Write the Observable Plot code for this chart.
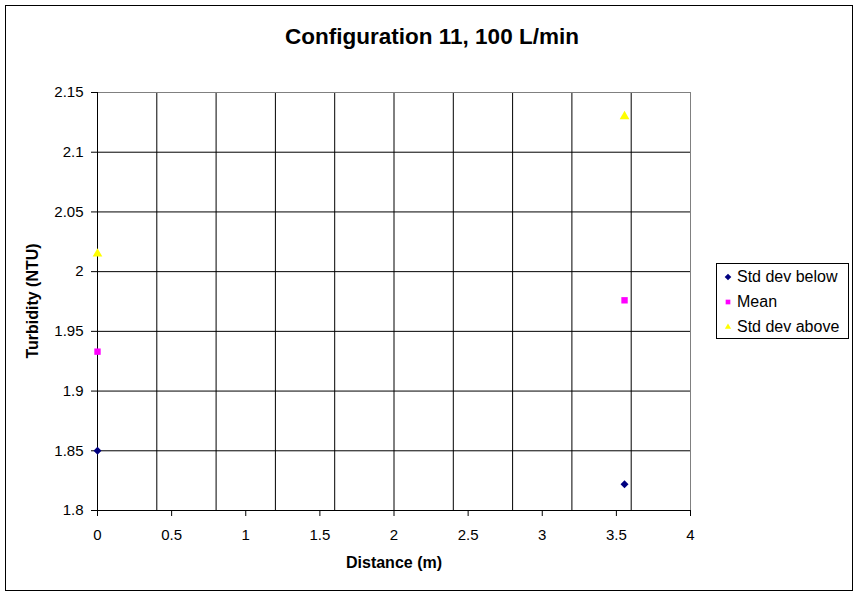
<!DOCTYPE html>
<html>
<head>
<meta charset="utf-8">
<script src="https://cdn.jsdelivr.net/npm/d3@7"></script>
<script src="https://cdn.jsdelivr.net/npm/@observablehq/plot@0.6"></script>
<style>
  html, body { margin: 0; padding: 0; background: #fff; }
  #wrap { position: relative; width: 859px; height: 596px; font-family: Arial, "Liberation Sans", sans-serif; }
  #border { position: absolute; left: 5px; top: 5px; width: 848px; height: 586px; border: 1px solid #000; box-sizing: border-box; pointer-events: none; }
  #title { position: absolute; left: 0; top: 24px; width: 864px; text-align: center; font-weight: bold; font-size: 22.5px; color: #000; }
  #ylabel { position: absolute; left: 33px; top: 301px; transform: translate(-50%, -50%) rotate(-90deg); font-weight: bold; font-size: 16px; white-space: nowrap; }
  #xlabel { position: absolute; left: 394px; top: 563px; transform: translate(-50%, -50%); font-weight: bold; font-size: 16px; white-space: nowrap; }
  #legend { position: absolute; left: 716px; top: 263px; width: 133px; height: 76px; border: 1px solid #000; box-sizing: border-box; font-size: 16px; }
  .row { position: absolute; left: 0; width: 130px; height: 20px; line-height: 20px; white-space: nowrap; }
  .row svg { position: absolute; left: 5px; top: 4px; }
  .row span { position: absolute; left: 20px; top: 0; }
  #chart { position: absolute; left: 0; top: 0; }
</style>
</head>
<body>
<div id="wrap">
  <div id="chart"></div>
  <div id="title">Configuration 11, 100 L/min</div>
  <div id="ylabel">Turbidity (NTU)</div>
  <div id="xlabel">Distance (m)</div>
  <div id="legend"></div>
  <div id="border"></div>
</div>
<script>
// ---- data ----
const seriesNames = ["Std dev below", "Mean", "Std dev above"];
const seriesColors = ["#000080", "#FF00FF", "#FFFF00"];
const seriesSymbols = ["diamond2", "square", "triangle"];
const distance = [0, 3.555];
const stdDevBelow = [1.850, 1.822];
const meanValues = [1.933, 1.976];
const stdDevAbove = [2.015, 2.130];
const xTickValues = [0, 0.5, 1, 1.5, 2, 2.5, 3, 3.5, 4];
const xGridValues = [0.4, 0.8, 1.2, 1.6, 2.0, 2.4, 2.8, 3.2, 3.6];
const yTickValues = [1.8, 1.85, 1.9, 1.95, 2.0, 2.05, 2.1, 2.15];
const xDomain = [0, 4];
const yDomain = [1.8, 2.15];

// ---- build table ----
const seriesValues = [stdDevBelow, meanValues, stdDevAbove];
const points = [];
seriesNames.forEach((name, i) => {
  distance.forEach((d, j) => points.push({series: name, distance: d, value: seriesValues[i][j]}));
});

const fmt = d => String(+d.toFixed(2));

const chart = Plot.plot({
  width: 859,
  height: 596,
  marginLeft: 97,
  marginRight: 169,
  marginTop: 92,
  marginBottom: 86,
  style: {fontFamily: 'Arial, "Liberation Sans", sans-serif', fontSize: "15px", background: "transparent", color: "#000"},
  x: {domain: xDomain},
  y: {domain: yDomain},
  color: {domain: seriesNames, range: seriesColors},
  symbol: {domain: seriesNames, range: seriesSymbols},
  marks: [
    Plot.ruleX(xGridValues, {stroke: "#000", strokeWidth: 1}),
    Plot.ruleY(yTickValues.filter(v => v > yDomain[0] && v < yDomain[1]), {stroke: "#000", strokeWidth: 1}),
    Plot.ruleY([yDomain[1]], {stroke: "#808080"}),
    Plot.ruleX([xDomain[1]], {stroke: "#808080"}),
    Plot.ruleY([yDomain[0]], {stroke: "#000"}),
    Plot.ruleX([xDomain[0]], {stroke: "#000"}),
    Plot.axisX({ticks: xTickValues, tickFormat: fmt, tickSize: 6, tickPadding: 13, label: null, fontSize: 15, stroke: "#000"}),
    Plot.axisY({ticks: yTickValues, tickFormat: fmt, tickSize: 6, tickPadding: 8, label: null, fontSize: 15, stroke: "#000"}),
    Plot.dot(points, {x: "distance", y: "value", fill: "series", symbol: "series", r: 3.6, stroke: "none"})
  ]
});
document.getElementById("chart").appendChild(chart);

// ---- legend ----
const legend = document.getElementById("legend");
const legendSymbols = [d3.symbolDiamond2, d3.symbolSquare2, d3.symbolTriangle2];
seriesNames.forEach((name, i) => {
  const row = document.createElement("div");
  row.className = "row";
  row.style.top = (3 + i * 25) + "px";
  const p = d3.symbol(legendSymbols[i], 28)();
  row.innerHTML = `<svg width="12" height="12" viewBox="-6 -6 12 12"><path d="${p}" fill="${seriesColors[i]}"/></svg><span>${name}</span>`;
  legend.appendChild(row);
});
</script>
</body>
</html>
